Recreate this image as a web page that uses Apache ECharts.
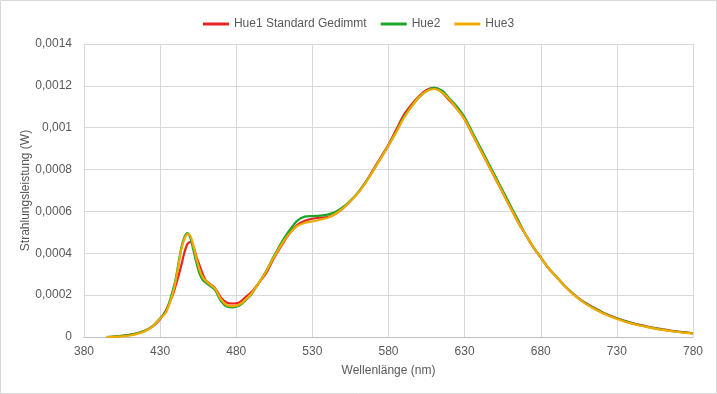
<!DOCTYPE html>
<html>
<head>
<meta charset="utf-8">
<script src="https://cdn.jsdelivr.net/npm/echarts@6/dist/echarts.min.js"></script>
<style>
html,body{margin:0;padding:0;background:#fff;}
#chart{width:717px;height:394px;}
</style>
</head>
<body>
<div id="chart"></div>
<script>
const wavelengths = [395,400,405,410,415,420,425,430,434,438,440,442,444,446,448,450,452,454,456,458,460,463,466,470,474,478,482,486,490,495,500,505,510,515,520,525,530,535,540,545,550,555,560,565,570,575,580,585,590,595,600,605,610,615,620,625,630,635,640,645,650,655,660,665,670,675,680,685,690,695,700,705,710,715,720,725,730,735,740,745,750,755,760,765,770,775,780];

const hue1 = [0,0.000002,0.000005,0.00001,0.000018,0.00003,0.00005,0.000085,0.00013,0.000195,0.00024,0.00029,0.000345,0.000405,0.000445,0.000455,0.00043,0.00038,0.00034,0.0003,0.00027,0.000252,0.000235,0.000188,0.000164,0.00016,0.000165,0.00019,0.000215,0.00026,0.00031,0.00038,0.00044,0.000495,0.000535,0.000555,0.000565,0.00057,0.000573,0.000588,0.000615,0.00065,0.00069,0.00074,0.0008,0.00086,0.00092,0.00099,0.00106,0.00111,0.00115,0.00118,0.00119,0.00117,0.00113,0.00109,0.00104,0.00097,0.0009,0.00083,0.00076,0.00069,0.00062,0.00055,0.00049,0.00043,0.00038,0.00033,0.00029,0.00025,0.000215,0.000185,0.00016,0.00014,0.00012,0.000104,0.00009,0.000078,0.000067,0.000058,0.00005,0.000043,0.000037,0.000031,0.000026,0.000022,0.000018];

const hue2 = [0,0.000002,0.000005,0.00001,0.000018,0.00003,0.000052,0.00009,0.000125,0.000215,0.00027,0.00035,0.00043,0.000478,0.000496,0.00047,0.00041,0.00035,0.0003,0.000272,0.00026,0.000243,0.000225,0.000172,0.000145,0.000142,0.00015,0.000175,0.000205,0.00026,0.00032,0.00039,0.000455,0.00051,0.000555,0.000575,0.000578,0.00058,0.000585,0.000597,0.00062,0.000652,0.00069,0.00074,0.000795,0.000855,0.000915,0.00098,0.00105,0.0011,0.001145,0.001175,0.00119,0.001178,0.00114,0.0011,0.00105,0.00098,0.00091,0.00084,0.00077,0.0007,0.00063,0.00056,0.00049,0.00043,0.00038,0.00033,0.00029,0.00025,0.000215,0.000183,0.000158,0.000137,0.000118,0.000102,0.000088,0.000076,0.000065,0.000056,0.000048,0.000041,0.000035,0.00003,0.000025,0.000021,0.000017];

const hue3 = [0,0.000001,0.000003,0.000007,0.000015,0.000028,0.00005,0.000088,0.00012,0.0002,0.00026,0.00034,0.00042,0.00047,0.000492,0.000482,0.00043,0.00037,0.00032,0.000285,0.000268,0.00025,0.000232,0.00018,0.000152,0.000148,0.000155,0.000178,0.000208,0.00026,0.000318,0.000385,0.000445,0.000495,0.00053,0.000545,0.000552,0.00056,0.00057,0.000588,0.000615,0.00065,0.000688,0.000738,0.000795,0.000855,0.000915,0.000978,0.001045,0.0011,0.001145,0.001175,0.001185,0.00117,0.001135,0.00109,0.00104,0.00097,0.0009,0.00083,0.00076,0.00069,0.00062,0.00055,0.00049,0.00043,0.00038,0.00033,0.00029,0.00025,0.000212,0.000182,0.000156,0.000135,0.000116,0.0001,0.000086,0.000074,0.000064,0.000055,0.000047,0.00004,0.000034,0.000029,0.000024,0.00002,0.000016];

const seriesNames = ['Hue1 Standard Gedimmt','Hue2','Hue3'];
const seriesColors = ['#E52521','#1EA52A','#F2AA00'];
const seriesValues = [hue1, hue2, hue3];

const font = '"Liberation Sans", Arial, sans-serif';
const chart = echarts.init(document.getElementById('chart'), null, {renderer:'canvas'});

function fmtY(v){
  const s = parseFloat(Number(v).toPrecision(6)).toString();
  return s.replace('.', ',');
}

chart.setOption({
  animation:false,
  backgroundColor:'#fff',
  textStyle:{fontFamily:font},
  graphic:[{type:'rect',shape:{x:0.5,y:0.5,width:716,height:393},style:{fill:'none',stroke:'#d9d9d9',lineWidth:1},silent:true}],
  legend:{
    left:'center', top:13,
    icon:'rect', itemWidth:26, itemHeight:3, itemGap:14,
    textStyle:{fontFamily:font,fontSize:12,color:'#595959'},
    data:seriesNames
  },
  grid:{left:84,right:24,top:44,bottom:57,containLabel:false},
  xAxis:{
    type:'value', min:380, max:780, interval:50,
    name:'Wellenlänge (nm)', nameLocation:'middle', nameGap:28,
    nameTextStyle:{fontFamily:font,fontSize:12,color:'#595959'},
    axisLine:{show:true,lineStyle:{color:'#bfbfbf'}},
    axisTick:{show:false},
    axisLabel:{fontFamily:font,fontSize:12,color:'#595959',margin:9},
    splitLine:{show:true,lineStyle:{color:'#d9d9d9'}}
  },
  yAxis:{
    type:'value', min:0, max:0.0014, interval:0.0002,
    name:'Strahlungsleistung (W)', nameLocation:'middle', nameGap:52, nameRotate:90,
    nameMoveOverlap:false,
    nameTextStyle:{fontFamily:font,fontSize:12,color:'#595959'},
    axisLine:{show:false}, axisTick:{show:false},
    axisLabel:{fontFamily:font,fontSize:12,color:'#595959',formatter:fmtY,margin:12},
    splitLine:{show:true,lineStyle:{color:'#d9d9d9'}}
  },
  series: seriesNames.map((n,i)=>({
    name:n, type:'line', smooth:0.3, showSymbol:false, symbol:'none',
    lineStyle:{width:2.2,color:seriesColors[i]},
    itemStyle:{color:seriesColors[i]},
    data: wavelengths.map((w,j)=>[w, seriesValues[i][j]])
  }))
});
</script>
</body>
</html>
